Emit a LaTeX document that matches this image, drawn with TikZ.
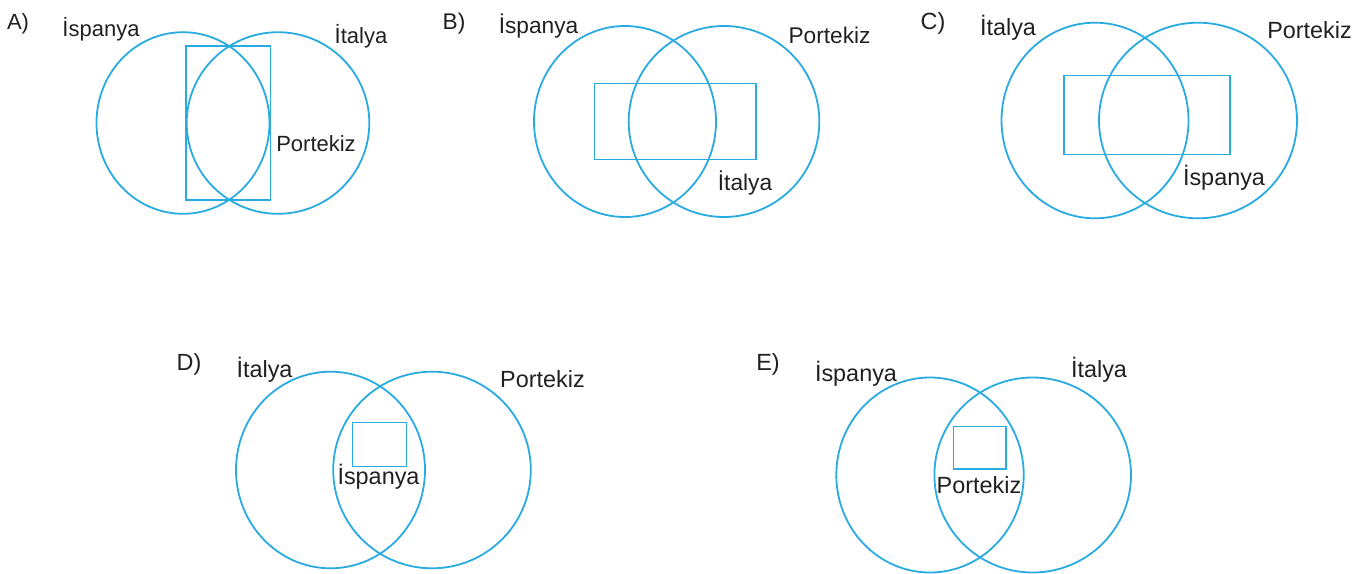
\documentclass[tikz,border=0pt]{standalone}
\usepackage{fontspec}
\setmainfont{Liberation Sans}
\definecolor{vblue}{RGB}{41,171,226}
\definecolor{vtext}{RGB}{35,31,32}
\tikzset{
  venn/.style={draw=vblue, line width=1.8pt},
  box/.style={draw=vblue, line width=1.2pt},
  lbl/.style={text=vtext, anchor=base, inner sep=0pt},
}
\begin{document}
\begin{tikzpicture}[x=1pt,y=-1pt]
\useasboundingbox (0,0) rectangle (1367,573);
% ---- A
\begin{scope}[font=\fontsize{22}{26}\selectfont]
\draw[venn] (183,123) ellipse [x radius=86.5, y radius=90.8];
\draw[venn] (278,123) ellipse [x radius=91.3, y radius=90.8];
\draw[box] (186,46) rectangle (270.7,200);
\node[lbl] (la) at (18,29) {A)};
\node[lbl] (a1) at (101,36) {İspanya};
\node[lbl] (a2) at (361,43) {İtalya};
\node[lbl] (a3) at (316,151) {Portekiz};
\end{scope}
% ---- B
\begin{scope}[font=\fontsize{22.7}{26}\selectfont]
\draw[venn] (625,121.5) ellipse [x radius=91, y radius=95.5];
\draw[venn] (724,121.5) ellipse [x radius=95.3, y radius=95.5];
\draw[box] (594.3,83.3) rectangle (756,159.3);
\node[lbl] (lb) at (454,29) {B)};
\node[lbl] (b1) at (538.5,33) {İspanya};
\node[lbl] (b2) at (829.5,43) {Portekiz};
\node[lbl] (b3) at (745,190) {İtalya};
\end{scope}
% ---- C
\begin{scope}[font=\fontsize{23.4}{26}\selectfont]
\draw[venn] (1095,120.5) ellipse [x radius=93.5, y radius=97.8];
\draw[venn] (1198,120.5) ellipse [x radius=99, y radius=97.8];
\draw[box] (1064,75.7) rectangle (1230,154.3);
\node[lbl] (lc) at (933,29) {C)};
\node[lbl] (c1) at (1008,35) {İtalya};
\node[lbl] (c2) at (1309.5,38) {Portekiz};
\node[lbl] (c3) at (1224,185) {İspanya};
\end{scope}
% ---- D
\begin{scope}[font=\fontsize{23.4}{26}\selectfont]
\draw[venn] (330.5,470) ellipse [x radius=94.5, y radius=98.3];
\draw[venn] (432,470) ellipse [x radius=98.8, y radius=98.3];
\draw[box] (352.7,422.3) rectangle (406.7,466.7);
\node[lbl] (ld) at (189,370) {D)};
\node[lbl] (d1) at (264.5,377) {İtalya};
\node[lbl] (d2) at (542.5,387) {Portekiz};
\node[lbl] (d3) at (378.5,484) {İspanya};
\end{scope}
% ---- E
\begin{scope}[font=\fontsize{23.4}{26}\selectfont]
\draw[venn] (930,475) ellipse [x radius=93.7, y radius=97.5];
\draw[venn] (1032.7,475) ellipse [x radius=98.3, y radius=97.5];
\draw[box] (953.3,426.7) rectangle (1006,469);
\node[lbl] (le) at (768,370) {E)};
\node[lbl] (e1) at (856,381) {İspanya};
\node[lbl] (e2) at (1099,377) {İtalya};
\node[lbl] (e3) at (979,493) {Portekiz};
\end{scope}
\end{tikzpicture}
\end{document}
